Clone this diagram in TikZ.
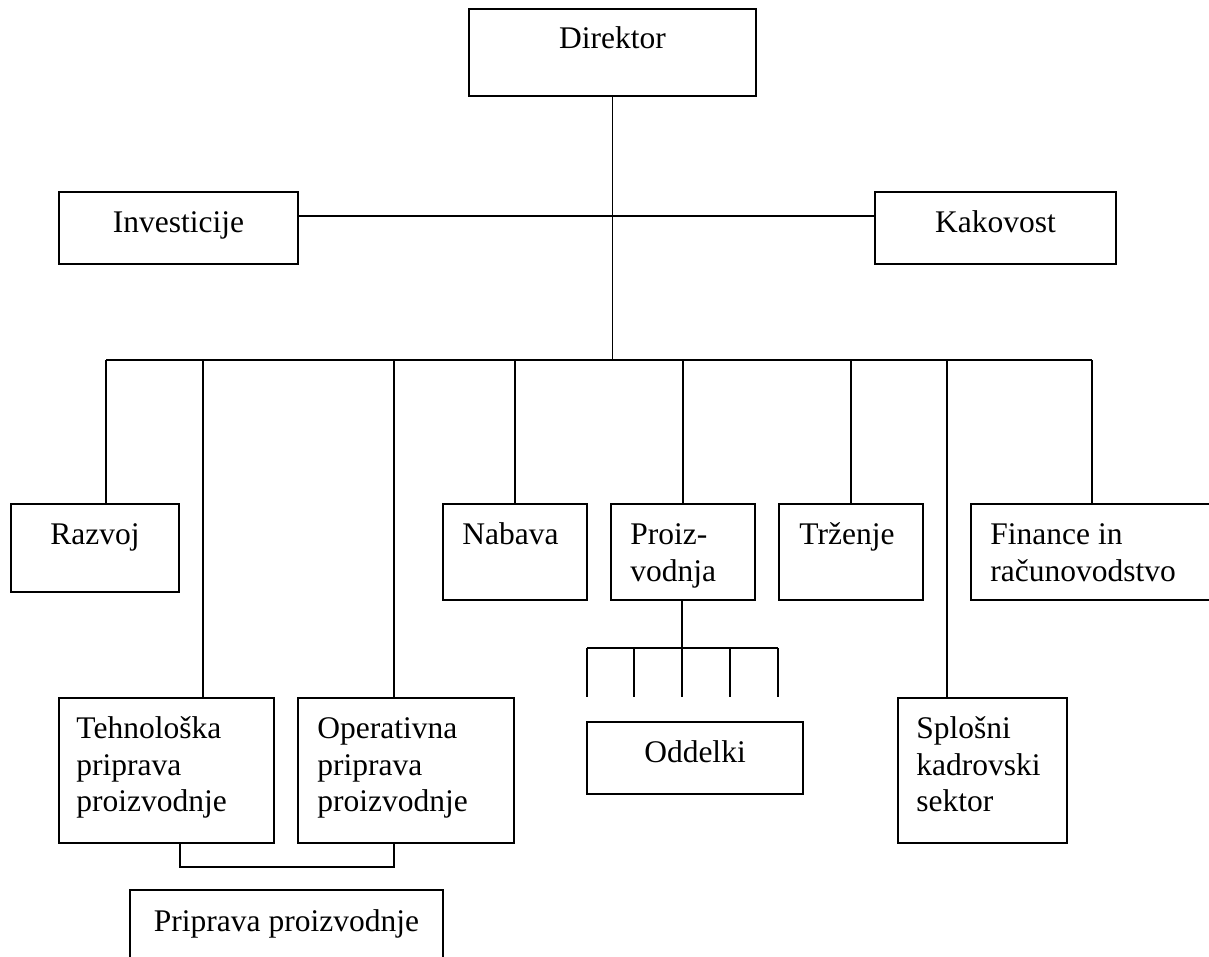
\documentclass[tikz,border=0pt]{standalone}
\usepackage{fontspec}
\setmainfont{Liberation Serif}
\usetikzlibrary{fit,calc}
\begin{document}
\begin{tikzpicture}[x=1pt,y=-1pt,
  box/.style={draw, line width=1.5pt, inner sep=0pt},
  txt/.style={inner sep=0pt, font=\fontsize{31.5}{36.5}\selectfont, align=left},
  ln/.style={line width=1.5pt}]
\useasboundingbox (0,0) rectangle (1209,957);
% boxes
\node[box, fit={(469,9) (756,96)}] (dir) {};
\node[box, fit={(59,192) (298,264)}] (inv) {};
\node[box, fit={(875,192) (1116,264)}] (kak) {};
\node[box, fit={(11,504) (179,592)}] (raz) {};
\node[box, fit={(443,504) (587,600)}] (nab) {};
\node[box, fit={(611,504) (755,600)}] (pro) {};
\node[box, fit={(779,504) (923,600)}] (trz) {};
\node[box, fit={(971,504) (1216,600)}] (fin) {};
\node[box, fit={(59,698) (274,843)}] (teh) {};
\node[box, fit={(298,698) (514,843)}] (ope) {};
\node[box, fit={(587,722) (803,794)}] (odd) {};
\node[box, fit={(898,698) (1067,843)}] (spl) {};
\node[box, fit={(130,890) (443,968)}] (pri) {};
% texts
\node[txt, anchor=north] (tdir) at ($(dir.north)+(0,15)$) {\strut Direktor};
\node[txt, anchor=north] (tinv) at ($(inv.north)+(0,15.5)$) {\strut Investicije};
\node[txt, anchor=north] (tkak) at ($(kak.north)+(0,15.5)$) {\strut Kakovost};
\node[txt, anchor=north] (traz) at ($(raz.north)+(0,15.5)$) {\strut Razvoj};
\node[txt, anchor=north west] (tnab) at ($(nab.north west)+(20,15.5)$) {\strut Nabava};
\node[txt, anchor=north west] (tpro) at ($(pro.north west)+(20,15.5)$) {\strut Proiz-\\vodnja};
\node[txt, anchor=north west] (ttrz) at ($(trz.north west)+(21,15.5)$) {\strut Trženje};
\node[txt, anchor=north west] (tfin) at ($(fin.north west)+(20,15.5)$) {\strut Finance in\\računovodstvo};
\node[txt, anchor=north west] (tteh) at ($(teh.north west)+(18,15.5)$) {\strut Tehnološka\\priprava\\proizvodnje};
\node[txt, anchor=north west] (tope) at ($(ope.north west)+(20,15.5)$) {\strut Operativna\\priprava\\proizvodnje};
\node[txt, anchor=north] (todd) at ($(odd.north)+(0,15.5)$) {\strut Oddelki};
\node[txt, anchor=north west] (tspl) at ($(spl.north west)+(19,15.5)$) {\strut Splošni\\kadrovski\\sektor};
\node[txt, anchor=north] (tpri) at ($(pri.north)+(0,16)$) {\strut Priprava proizvodnje};
% main connectors
\coordinate (hub) at (612.5,216);
\coordinate (bus) at (612.5,360);
\draw[ln] (dir.south) -- (bus);
\draw[ln] (inv.east |- hub) -- (kak.west |- hub);
\coordinate (b1) at (106,360);
\coordinate (b2) at (203,360);
\coordinate (b3) at (394,360);
\coordinate (b4) at (515,360);
\coordinate (b5) at (683,360);
\coordinate (b6) at (851,360);
\coordinate (b7) at (947,360);
\coordinate (b8) at (1092,360);
\draw[ln] (b1) -- (b8);
\draw[ln] (b1) -- (b1 |- raz.north);
\draw[ln] (b2) -- (b2 |- teh.north);
\draw[ln] (b3) -- (b3 |- ope.north);
\draw[ln] (b4) -- (b4 |- nab.north);
\draw[ln] (b5) -- (b5 |- pro.north);
\draw[ln] (b6) -- (b6 |- trz.north);
\draw[ln] (b7) -- (b7 |- spl.north);
\draw[ln] (b8) -- (b8 |- fin.north);
% production sub-bus
\coordinate (s1) at (587,648);
\coordinate (s2) at (634,648);
\coordinate (s3) at (682,648);
\coordinate (s4) at (730,648);
\coordinate (s5) at (778,648);
\draw[ln] (pro.south -| s3) -- (s3);
\draw[ln] (s1) -- (s5);
\foreach \s in {s1,s2,s3,s4,s5} { \draw[ln] (\s) -- ++(0,49); }
% bracket to Priprava proizvodnje
\coordinate (kl) at (180,867);
\coordinate (kr) at (394,867);
\draw[ln] (kl |- teh.south) -- (kl) -- (kr) -- (kr |- ope.south);
\end{tikzpicture}
\end{document}
